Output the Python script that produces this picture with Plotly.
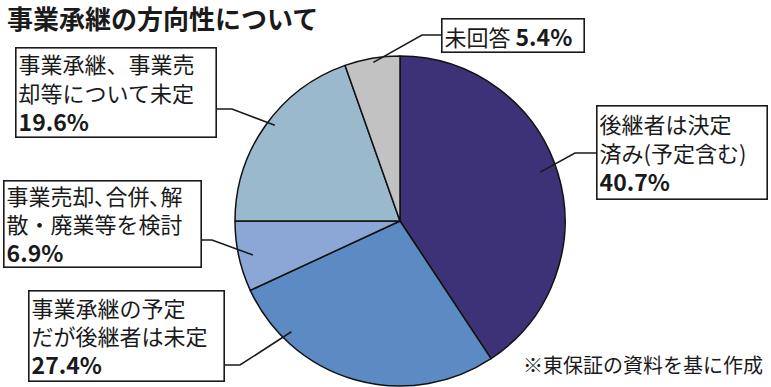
import math
import plotly.graph_objects as go

# ---- data ----
categories = ["後継者は決定<br>済み(予定含む)", "事業承継の予定<br>だが後継者は未定",
              "事業売却､合併､解<br>散・廃業等を検討", "事業承継、事業売<br>却等について未定", "未回答"]
values = [40.7, 27.4, 6.9, 19.6, 5.4]
colors = ["#3d3277", "#5c8bc4", "#8ba7d5", "#9bb9cc", "#c2c2c2"]
title_text = "事業承継の方向性について"
source_text = "※東保証の資料を基に作成"

# ---- layout helpers ----
W, H = 771, 387
CX, CY, R = 400, 221, 165

def px(x):
    return x / W

def py(y):
    return 1 - y / H

# label boxes: left, top, right, bottom (pixels), connector y, elbow x, pointer frac in slice, radius frac
boxes = [
    (596, 105, 768, 200, 153, 575, 0.483, 0.90),
    (28, 290, 225, 382, 365, 240, 0.79, 0.94),
    (3, 180, 202, 268, 240, 212, 0.475, 0.915),
    (15, 47, 217, 138, 109, 232, 0.53, 0.955),
    (441, 18, 585, 53, 35, 422, 0.51, 0.975),
]

fig = go.Figure(go.Pie(
    values=values,
    labels=[c.replace("<br>", "") for c in categories],
    sort=False,
    direction="clockwise",
    rotation=0,
    marker=dict(colors=colors, line=dict(color="#111111", width=1.5)),
    textinfo="none",
    hoverinfo="label+percent",
    showlegend=False,
    domain=dict(x=[px(CX - R), px(CX + R)], y=[py(CY + R), py(CY - R)]),
))

annotations = []
shapes = []
total = sum(values)
cum = 0.0
BW, PAD = 1.6, 2
for i, (v, cat) in enumerate(zip(values, categories)):
    l, t, r, b, cy_, ex, frac, rf = boxes[i]
    start = cum / total * 360
    ang = math.radians(start + frac * v / total * 360)
    cum += v
    pxp = CX + rf * R * math.sin(ang)
    pyp = CY - rf * R * math.cos(ang)
    if i == 4:
        text = f"{cat} <b><span style='font-size:23px'>{v:.1f}%</span></b>"
    else:
        text = f"{cat}<br><b><span style='font-size:23px'>{v:.1f}%</span></b>"
    annotations.append(dict(
        x=px(l), y=py(t), xref="paper", yref="paper", xanchor="left", yanchor="top",
        text=text, showarrow=False, align="left", valign="middle",
        width=(r - l) - 2 * PAD - 2 * BW, height=(b - t) - 2 * PAD - 2 * BW,
        font=dict(family="Noto Sans CJK JP", size=22, color="#1a1a1a"),
        bgcolor="white", bordercolor="#1a1a1a", borderwidth=BW, borderpad=PAD,
    ))
    edge = l if ex < l else r
    shapes.append(dict(
        type="path", xref="paper", yref="paper",
        path=f"M {px(edge)} {py(cy_)} L {px(ex)} {py(cy_)} L {px(pxp)} {py(pyp)}",
        line=dict(color="#1a1a1a", width=1.6),
    ))

annotations.append(dict(
    x=px(5), y=py(-3), xref="paper", yref="paper", xanchor="left", yanchor="top",
    text=f"<b>{title_text}</b>", showarrow=False,
    font=dict(family="Noto Sans CJK JP", size=26, color="#1a1a1a"),
))
annotations.append(dict(
    x=px(765), y=py(381), xref="paper", yref="paper", xanchor="right", yanchor="bottom",
    text=source_text, showarrow=False,
    font=dict(family="Noto Sans CJK JP", size=20, color="#1a1a1a"),
))

fig.update_layout(
    width=W, height=H, margin=dict(l=0, r=0, t=0, b=0),
    paper_bgcolor="white", plot_bgcolor="white",
    annotations=annotations, shapes=shapes,
)
fig.write_html("out.html")
